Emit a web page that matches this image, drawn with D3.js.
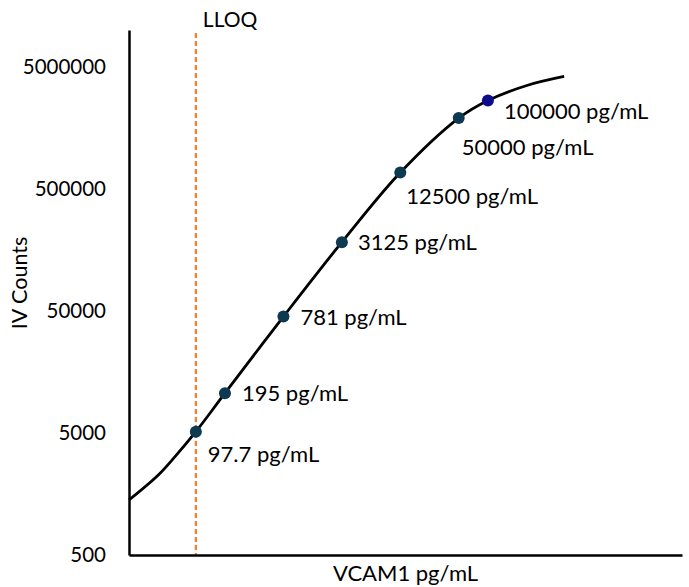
<!DOCTYPE html>
<html>
<head>
<meta charset="utf-8">
<script src="https://cdn.jsdelivr.net/npm/d3@7"></script>
<style>
  html, body { margin: 0; padding: 0; background: #ffffff; }
  svg { display: block; font-family: Lato, "Open Sans", sans-serif; }
</style>
</head>
<body>
<svg id="chart" width="689" height="587"></svg>
<script>
// Standards (concentration pg/mL) and their counts
const standardConc = [97.7, 195, 781, 3125, 12500, 50000, 100000];
const standardCounts = [5120, 10580, 44900, 182800, 680000, 1900000, 2650000];
const standardLabels = ["97.7 pg/mL", "195 pg/mL", "781 pg/mL", "3125 pg/mL", "12500 pg/mL", "50000 pg/mL", "100000 pg/mL"];

// Fitted curve
const curveConc = [20, 40.1, 59.6, 97.7, 195, 781, 3125, 12500, 50000, 100000, 251800, 610000];
const curveCounts = [1413, 2264, 3198, 5120, 10580, 44900, 182800, 680000, 1900000, 2650000, 3510000, 4160000];

// Axis ticks
const yTicks = [500, 5000, 50000, 500000, 5000000];
const lloqConc = 97.7;

// layout: label offsets (px) relative to each dot
const labelDx = [12, 17, 17, 16, 6, 3, 16];
const labelDy = [30, 8, 8, 8, 31, 37, 19];
const dotColors = ["#0e3a51", "#0e3a51", "#0e3a51", "#0e3a51", "#0e3a51", "#0e3a51", "#0b0b8c"];

const svg = d3.select("#chart");
const x = d3.scaleLog().domain([20, 1e7]).range([129, 682]);
const y = d3.scaleLog().domain([500, 1e7]).range([555, 30]);

// LLOQ line
svg.append("line")
  .attr("x1", x(lloqConc)).attr("x2", x(lloqConc))
  .attr("y1", 33).attr("y2", 555)
  .attr("stroke", "#ed7d31").attr("stroke-width", 2.2)
  .attr("stroke-dasharray", "5,3");
svg.append("text")
  .attr("x", x(lloqConc) + 7).attr("y", 27)
  .attr("font-size", 21).attr("fill", "#000")
  .text("LLOQ");

// Y axis
const yAxis = d3.axisLeft(y).tickValues(yTicks).tickSize(0).tickSizeOuter(0)
  .tickPadding(23).tickFormat(d3.format("d"));
const gy = svg.append("g").attr("transform", "translate(129,0)").call(yAxis);
gy.select(".domain").attr("stroke", "#000").attr("stroke-width", 2.5);
gy.selectAll("text").attr("font-size", 20.5).attr("font-family", "Lato, sans-serif").attr("fill", "#000");

// X axis
const xAxis = d3.axisBottom(x).tickValues([]).tickSizeOuter(0);
const gx = svg.append("g").attr("transform", "translate(0,555)").call(xAxis);
gx.select(".domain").attr("stroke", "#000").attr("stroke-width", 2.5);

// Axis titles
svg.append("text")
  .attr("x", (x.range()[0] + x.range()[1]) / 2).attr("y", 581)
  .attr("text-anchor", "middle").attr("font-size", 22)
  .text("VCAM1 pg/mL");
svg.append("text")
  .attr("transform", "translate(27,283) rotate(-90)")
  .attr("text-anchor", "middle").attr("font-size", 21.5)
  .text("IV Counts");

// Curve
const curveData = curveConc.map((c, i) => [c, curveCounts[i]]);
const line = d3.line().x(d => x(d[0])).y(d => y(d[1])).curve(d3.curveCatmullRom.alpha(0.5));
svg.append("path").datum(curveData)
  .attr("d", line).attr("fill", "none")
  .attr("stroke", "#000").attr("stroke-width", 2.8);

// Dots
const pts = standardConc.map((c, i) => ({ c, v: standardCounts[i], label: standardLabels[i], i }));
svg.selectAll("circle.std").data(pts).enter().append("circle")
  .attr("class", "std")
  .attr("cx", d => x(d.c)).attr("cy", d => y(d.v)).attr("r", 6)
  .attr("fill", d => dotColors[d.i]);

// Labels
svg.selectAll("text.lbl").data(pts).enter().append("text")
  .attr("class", "lbl")
  .attr("x", d => x(d.c) + labelDx[d.i]).attr("y", d => y(d.v) + labelDy[d.i])
  .attr("font-size", 22).attr("fill", "#000")
  .text(d => d.label);
</script>
</body>
</html>
